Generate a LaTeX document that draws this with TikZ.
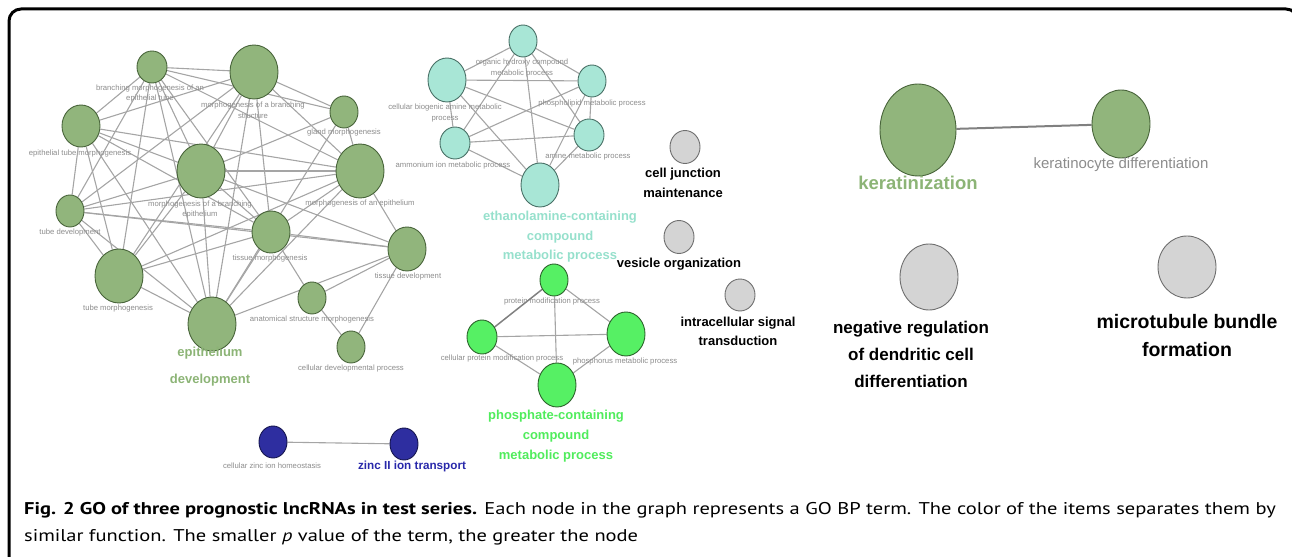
\documentclass[tikz,border=0pt]{standalone}
\usepackage{fontspec}
\setmainfont{Liberation Sans}
\newfontfamily\capfont[FakeStretch=1.205]{PT Sans}
\usepackage{tikz}
\usetikzlibrary{shapes.geometric, backgrounds}

\definecolor{olivefill}{RGB}{145,181,124}
\definecolor{olivedraw}{RGB}{72,100,58}
\definecolor{olivetext}{RGB}{140,180,118}
\definecolor{aquafill}{RGB}{168,230,214}
\definecolor{aquadraw}{RGB}{72,112,102}
\definecolor{aquatext}{RGB}{150,224,204}
\definecolor{limefill}{RGB}{86,240,100}
\definecolor{limedraw}{RGB}{44,100,44}
\definecolor{limetext}{RGB}{80,236,92}
\definecolor{navyfill}{RGB}{46,46,160}
\definecolor{navydraw}{RGB}{22,22,80}
\definecolor{navytext}{RGB}{40,40,170}
\definecolor{greyfill}{RGB}{212,212,212}
\definecolor{greydraw}{RGB}{110,110,110}
\definecolor{lblgray}{RGB}{140,140,140}
\definecolor{edgegray}{RGB}{165,165,165}

\begin{document}
\begin{tikzpicture}[line join=bevel,
  term/.style={ellipse, draw, line width=0.9bp, inner sep=0pt},
  olive/.style={term, fill=olivefill, draw=olivedraw},
  aqua/.style={term, fill=aquafill, draw=aquadraw},
  lime/.style={term, fill=limefill, draw=limedraw},
  navy/.style={term, fill=navyfill, draw=navydraw},
  grey/.style={term, fill=greyfill, draw=greydraw},
  sz/.style 2 args={minimum width=#1bp, minimum height=#2bp},
  small_lbl/.style={text=lblgray, align=center, inner sep=0pt, font=\fontsize{7.7bp}{10.5bp}\selectfont},
  big_lbl/.style={align=center, inner sep=0pt, font=\bfseries\fontsize{13bp}{19.5bp}\selectfont},
  go_edge/.style={draw=edgegray, line width=1.1bp},
  go_strong/.style={draw=black!50, line width=1.5bp},
]
\useasboundingbox (0bp,0bp) rectangle (1292bp,557bp);
%% frame
\draw [line width=3bp, rounded corners=12bp] (9bp,-5bp) -- (9bp,548bp) -- (1298bp,548bp) -- (1298bp,400bp);
%%
\node (br_tube) at (152bp,490bp) [olive, sz={30}{32}] {};
  \node (br_struct) at (254bp,485bp) [olive, sz={48}{54}] {};
  \node (gland) at (344bp,445bp) [olive, sz={28}{32}] {};
  \node (epi_tube) at (81bp,431bp) [olive, sz={38}{42}] {};
  \node (br_epi) at (201bp,386bp) [olive, sz={48}{54}] {};
  \node (epi_morph) at (360bp,386bp) [olive, sz={48}{54}] {};
  \node (tube_dev) at (70bp,346bp) [olive, sz={28}{32}] {};
  \node (tis_morph) at (271bp,325bp) [olive, sz={38}{42}] {};
  \node (tube_morph) at (119bp,281bp) [olive, sz={48}{54}] {};
  \node (tis_dev) at (407bp,308bp) [olive, sz={38}{44}] {};
  \node (anat_morph) at (312bp,259bp) [olive, sz={28}{32}] {};
  \node (epi_dev) at (212bp,233bp) [olive, sz={48}{54}] {};
  \node (cell_dev) at (351bp,210bp) [olive, sz={28}{32}] {};
  \node (org_hydroxy) at (523bp,516bp) [aqua, sz={28}{32}] {};
  \node (bio_amine) at (447bp,477bp) [aqua, sz={38}{44}] {};
  \node (phospholipid) at (592bp,476bp) [aqua, sz={28}{32}] {};
  \node (ammonium) at (455bp,414bp) [aqua, sz={30}{32}] {};
  \node (amine) at (589bp,422bp) [aqua, sz={30}{32}] {};
  \node (ethanolamine) at (540bp,372bp) [aqua, sz={38}{44}] {};
  \node (prot_mod) at (554bp,277bp) [lime, sz={28}{32}] {};
  \node (cell_prot_mod) at (482bp,220bp) [lime, sz={30}{34}] {};
  \node (phosphorus) at (626bp,223bp) [lime, sz={38}{44}] {};
  \node (phosphate) at (557bp,172bp) [lime, sz={38}{44}] {};
  \node (zinc_homeo) at (273bp,115bp) [navy, sz={28}{32}] {};
  \node (zinc_trans) at (404bp,113bp) [navy, sz={28}{32}] {};
  \node (cell_junc) at (685bp,410bp) [grey, sz={30}{33}] {};
  \node (vesicle) at (679bp,320bp) [grey, sz={30}{33}] {};
  \node (intra_sig) at (740bp,262bp) [grey, sz={30}{32}] {};
  \node (neg_reg) at (929bp,280bp) [grey, sz={58}{66}] {};
  \node (microtub) at (1187bp,290bp) [grey, sz={58}{62}] {};
  \node (kerat) at (918bp,427bp) [olive, sz={76}{92}] {};
  \node (kerat_diff) at (1121bp,433bp) [olive, sz={58}{68}] {};
%% labels
\node (lbl_br_tube) at (150bp,463.5bp) [small_lbl] {branching morphogenesis of an\\epithelial tube};
  \node (lbl_br_struct) at (253bp,446.5bp) [small_lbl] {morphogenesis of a branching\\structure};
  \node (lbl_gland) at (344bp,424bp) [small_lbl] {gland morphogenesis};
  \node (lbl_epi_tube) at (80bp,403bp) [small_lbl] {epithelial tube morphogenesis};
  \node (lbl_br_epi) at (200bp,347.5bp) [small_lbl] {morphogenesis of a branching\\epithelium};
  \node (lbl_epi_morph) at (360bp,353bp) [small_lbl] {morphogenesis of an epithelium};
  \node (lbl_tube_dev) at (70bp,324bp) [small_lbl] {tube development};
  \node (lbl_tis_morph) at (270bp,298bp) [small_lbl] {tissue morphogenesis};
  \node (lbl_tube_morph) at (118bp,248bp) [small_lbl] {tube morphogenesis};
  \node (lbl_tis_dev) at (408bp,280bp) [small_lbl] {tissue development};
  \node (lbl_anat_morph) at (312bp,237bp) [small_lbl] {anatomical structure morphogenesis};
  \node (lbl_epi_dev) at (210bp,190.5bp) [big_lbl, text=olivetext, font=\bfseries\fontsize{13bp}{27bp}\selectfont] {epithelium\\development};
  \node (lbl_cell_dev) at (351bp,188bp) [small_lbl] {cellular developmental process};
  \node (lbl_org_hydroxy) at (522bp,489bp) [small_lbl] {organic hydroxy compound\\metabolic process};
  \node (lbl_bio_amine) at (445bp,444bp) [small_lbl] {cellular biogenic amine metabolic\\process};
  \node (lbl_phospholipid) at (592bp,453bp) [small_lbl] {phospholipid metabolic process};
  \node (lbl_ammonium) at (453bp,391bp) [small_lbl] {ammonium ion metabolic process};
  \node (lbl_amine) at (588bp,400bp) [small_lbl] {amine metabolic process};
  \node (lbl_ethanolamine) at (560bp,320bp) [big_lbl, text=aquatext] {ethanolamine-containing\\compound\\metabolic process};
  \node (lbl_prot_mod) at (552bp,255bp) [small_lbl] {protein modification process};
  \node (lbl_cell_prot_mod) at (502bp,198bp) [small_lbl] {cellular protein modification process};
  \node (lbl_phosphorus) at (625bp,195bp) [small_lbl] {phosphorus metabolic process};
  \node (lbl_phosphate) at (556bp,121bp) [big_lbl, text=limetext, font=\bfseries\fontsize{13bp}{20bp}\selectfont] {phosphate-containing\\compound\\metabolic process};
  \node (lbl_zinc_homeo) at (272bp,91bp) [small_lbl] {cellular zinc ion homeostasis};
  \node (lbl_zinc_trans) at (412bp,91bp) [big_lbl, text=navytext, font=\bfseries\fontsize{11.7bp}{14bp}\selectfont] {zinc II ion transport};
  \node (lbl_cell_junc) at (683bp,374bp) [big_lbl, font=\bfseries\fontsize{13bp}{20bp}\selectfont] {cell junction\\maintenance};
  \node (lbl_vesicle) at (679bp,293bp) [big_lbl, font=\bfseries\fontsize{13bp}{19bp}\selectfont] {vesicle organization};
  \node (lbl_intra_sig) at (738bp,225.5bp) [big_lbl, font=\bfseries\fontsize{13bp}{19bp}\selectfont] {intracellular signal\\transduction};
  \node (lbl_neg_reg) at (911bp,203bp) [big_lbl, font=\bfseries\fontsize{17bp}{27bp}\selectfont] {negative regulation\\of dendritic cell\\differentiation};
  \node (lbl_microtub) at (1187bp,221bp) [big_lbl, font=\bfseries\fontsize{19.5bp}{28bp}\selectfont] {microtubule bundle\\formation};
  \node (lbl_kerat) at (918bp,374bp) [big_lbl, text=olivetext, font=\bfseries\fontsize{18.5bp}{20bp}\selectfont] {keratinization};
  \node (lbl_kerat_diff) at (1121bp,392bp) [small_lbl, font=\fontsize{15bp}{17bp}\selectfont] {keratinocyte differentiation};
%% caption
\node (cap_1) at (24bp,42bp) [anchor=base west, inner sep=0pt, font=\capfont\fontsize{17bp}{20bp}\selectfont] {\textbf{Fig. 2 GO of three prognostic lncRNAs in test series.} Each node in the graph represents a GO BP term. The color of the items separates them by};
  \node (cap_2) at (24bp,16bp) [anchor=base west, inner sep=0pt, font=\capfont\fontsize{17bp}{20bp}\selectfont] {similar function. The smaller \textit{p} value of the term, the greater the node};
%% edges
\begin{pgfonlayer}{background}
\draw [go_edge] (br_tube) -- (br_struct);
  \draw [go_edge] (br_tube) -- (epi_tube);
  \draw [go_edge] (br_tube) -- (br_epi);
  \draw [go_edge] (br_tube) -- (epi_morph);
  \draw [go_edge] (br_tube) -- (tube_dev);
  \draw [go_edge] (br_tube) -- (tube_morph);
  \draw [go_edge] (br_tube) -- (tis_morph);
  \draw [go_edge] (br_tube) -- (epi_dev);
  \draw [go_edge] (br_tube) -- (gland);
  \draw [go_edge] (br_struct) -- (epi_tube);
  \draw [go_edge] (br_struct) -- (br_epi);
  \draw [go_edge] (br_struct) -- (epi_morph);
  \draw [go_edge] (br_struct) -- (gland);
  \draw [go_edge] (br_struct) -- (tube_dev);
  \draw [go_edge] (br_struct) -- (tis_morph);
  \draw [go_edge] (br_struct) -- (tube_morph);
  \draw [go_edge] (br_struct) -- (epi_dev);
  \draw [go_edge] (gland) -- (br_epi);
  \draw [go_edge] (gland) -- (epi_morph);
  \draw [go_edge] (gland) -- (epi_dev);
  \draw [go_edge] (epi_tube) -- (br_epi);
  \draw [go_edge] (epi_tube) -- (epi_morph);
  \draw [go_edge] (epi_tube) -- (tube_dev);
  \draw [go_edge] (epi_tube) -- (tube_morph);
  \draw [go_edge] (epi_tube) -- (tis_morph);
  \draw [go_edge] (epi_tube) -- (epi_dev);
  \draw [go_edge] (br_epi) -- (epi_morph);
  \draw [go_edge] (br_epi) -- (tube_dev);
  \draw [go_edge] (br_epi) -- (tis_morph);
  \draw [go_edge] (br_epi) -- (tube_morph);
  \draw [go_edge] (br_epi) -- (epi_dev);
  \draw [go_edge] (br_epi) -- (tis_dev);
  \draw [go_edge] (epi_morph) -- (tis_morph);
  \draw [go_edge] (epi_morph) -- (tube_morph);
  \draw [go_edge] (epi_morph) -- (epi_dev);
  \draw [go_edge] (epi_morph) -- (tis_dev);
  \draw [go_edge] (epi_morph) -- (tube_dev);
  \draw [go_edge] (tube_dev) -- (tis_morph);
  \draw [go_edge] (tube_dev) -- (tube_morph);
  \draw [go_edge] (tube_dev) -- (epi_dev);
  \draw [go_edge] (tube_dev) -- (tis_dev);
  \draw [go_edge] (tis_morph) -- (tube_morph);
  \draw [go_edge] (tis_morph) -- (epi_dev);
  \draw [go_edge] (tis_morph) -- (tis_dev);
  \draw [go_edge] (tis_morph) -- (anat_morph);
  \draw [go_edge] (tube_morph) -- (epi_dev);
  \draw [go_edge] (tis_dev) -- (epi_dev);
  \draw [go_edge] (tis_dev) -- (anat_morph);
  \draw [go_edge] (tis_dev) -- (cell_dev);
  \draw [go_edge] (anat_morph) -- (cell_dev);
%
\draw [go_edge] (org_hydroxy) -- (bio_amine);
  \draw [go_edge] (org_hydroxy) -- (phospholipid);
  \draw [go_edge] (org_hydroxy) -- (ammonium);
  \draw [go_edge] (org_hydroxy) -- (amine);
  \draw [go_edge] (org_hydroxy) -- (ethanolamine);
  \draw [go_edge] (bio_amine) -- (phospholipid);
  \draw [go_edge] (bio_amine) -- (ammonium);
  \draw [go_edge] (bio_amine) -- (amine);
  \draw [go_edge] (bio_amine) -- (ethanolamine);
  \draw [go_edge] (phospholipid) -- (ammonium);
  \draw [go_edge] (phospholipid) -- (amine);
  \draw [go_edge] (phospholipid) -- (ethanolamine);
  \draw [go_edge] (ammonium) -- (amine);
  \draw [go_edge] (ammonium) -- (ethanolamine);
  \draw [go_edge] (amine) -- (ethanolamine);
%
\draw [go_strong] (prot_mod) -- (cell_prot_mod);
  \draw [go_edge] (prot_mod) -- (phosphorus);
  \draw [go_edge] (prot_mod) -- (phosphate);
  \draw [go_edge] (cell_prot_mod) -- (phosphorus);
  \draw [go_edge] (cell_prot_mod) -- (phosphate);
  \draw [go_edge] (phosphorus) -- (phosphate);
%
\draw [go_edge] (zinc_homeo) -- (zinc_trans);
  \draw [go_strong, line width=2bp] (kerat) -- (kerat_diff);
\end{pgfonlayer}
%
\end{tikzpicture}
\end{document}
